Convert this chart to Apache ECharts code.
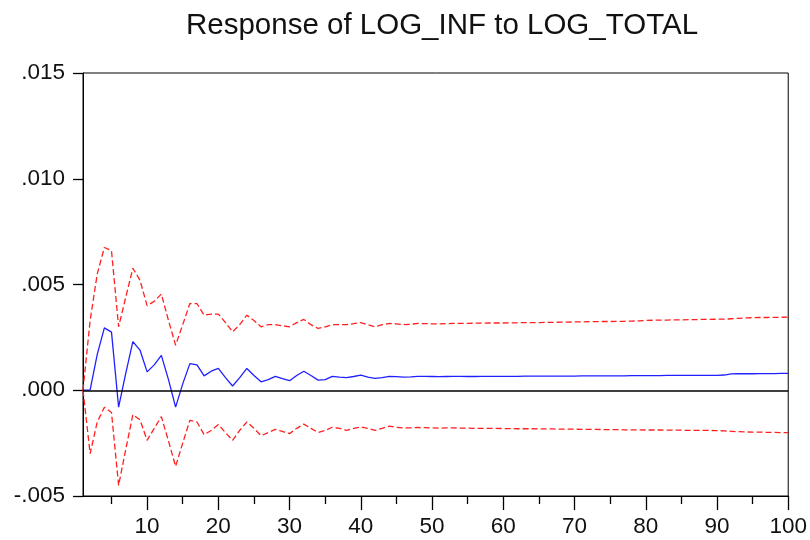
<!DOCTYPE html>
<html>
<head>
<meta charset="utf-8">
<script src="https://cdn.jsdelivr.net/npm/echarts@6/dist/echarts.min.js"></script>
<style>
html,body{margin:0;padding:0;background:#fff;}
#chart{width:810px;height:540px;}
</style>
</head>
<body>
<div id="chart"></div>
<script>
const titleText = 'Response of LOG_INF to LOG_TOTAL';
const periods = Array.from({length: 100}, (_, i) => i + 1);
const xLabelTicks = [10, 20, 30, 40, 50, 60, 70, 80, 90, 100];
const xMinorTicks = [5, 15, 25, 35, 45, 55, 65, 75, 85, 95];

const response = [
  0, 0.00002, 0.0017, 0.00295, 0.00275, -0.0008, 0.0008, 0.0023, 0.0019, 0.00087,
  0.0012, 0.00165, 0.0005, -0.0008, 0.0003, 0.00126, 0.0012, 0.00068, 0.0009, 0.00103,
  0.0006, 0.0002, 0.0006, 0.00103, 0.0007, 0.0004, 0.0005, 0.00066, 0.00055, 0.00045,
  0.0007, 0.0009, 0.0007, 0.00048, 0.0005, 0.00066, 0.00062, 0.0006, 0.00065, 0.00071,
  0.00062, 0.00056, 0.0006, 0.00066, 0.00064, 0.00062, 0.00063, 0.00066, 0.00066, 0.00065,
  0.00064, 0.00065, 0.00066, 0.00066, 0.00065, 0.00065, 0.00066, 0.00066, 0.00066, 0.00066,
  0.00066, 0.00066, 0.00067, 0.00067, 0.00067, 0.00067, 0.00067, 0.00067, 0.00067, 0.00067,
  0.00068, 0.00068, 0.00068, 0.00068, 0.00068, 0.00068, 0.00068, 0.00069, 0.00069, 0.00069,
  0.00069, 0.00069, 0.0007, 0.0007, 0.0007, 0.0007, 0.0007, 0.0007, 0.0007, 0.0007,
  0.00072, 0.00077, 0.00078, 0.00078, 0.00078, 0.00079, 0.00079, 0.00079, 0.0008, 0.0008
];

const upperBand = [
  0, 0.0033, 0.0055, 0.00675, 0.0066, 0.003, 0.0044, 0.00577, 0.0052, 0.004,
  0.0042, 0.00455, 0.0033, 0.00213, 0.0031, 0.0041, 0.0041, 0.00355, 0.0036, 0.0036,
  0.0032, 0.00276, 0.0031, 0.00355, 0.0033, 0.003, 0.0031, 0.0031, 0.00305, 0.003,
  0.0032, 0.00335, 0.0031, 0.00292, 0.003, 0.0031, 0.0031, 0.0031, 0.00315, 0.0032,
  0.0031, 0.003, 0.0031, 0.00316, 0.00314, 0.0031, 0.00312, 0.00316, 0.00315, 0.00314,
  0.00314, 0.00315, 0.00316, 0.00316, 0.00316, 0.00317, 0.00317, 0.00318, 0.00318, 0.00318,
  0.00319, 0.00319, 0.0032, 0.0032, 0.0032, 0.00321, 0.00321, 0.00322, 0.00322, 0.00323,
  0.00323, 0.00324, 0.00324, 0.00325, 0.00325, 0.00326, 0.00326, 0.00327, 0.00328, 0.0033,
  0.00331, 0.00332, 0.00332, 0.00333, 0.00333, 0.00334, 0.00334, 0.00335, 0.00335, 0.00336,
  0.00336, 0.00338, 0.0034, 0.00342, 0.00343, 0.00344, 0.00344, 0.00345, 0.00345, 0.00346
];

const lowerBand = [
  0, -0.003, -0.0015, -0.0008, -0.00105, -0.0045, -0.0028, -0.00115, -0.0014, -0.00237,
  -0.0018, -0.00125, -0.0024, -0.0036, -0.0025, -0.00142, -0.0015, -0.0021, -0.0019, -0.00162,
  -0.002, -0.00237, -0.0019, -0.0015, -0.0018, -0.00215, -0.002, -0.00185, -0.00195, -0.00205,
  -0.0018, -0.0016, -0.0018, -0.002, -0.0019, -0.00175, -0.0018, -0.0019, -0.0018, -0.00174,
  -0.0018, -0.0019, -0.0018, -0.0017, -0.00175, -0.00178, -0.00178, -0.00176, -0.00177, -0.00178,
  -0.00179, -0.00178, -0.00178, -0.00179, -0.00179, -0.0018, -0.0018, -0.0018, -0.0018, -0.00181,
  -0.00181, -0.00182, -0.00182, -0.00182, -0.00183, -0.00183, -0.00183, -0.00184, -0.00184, -0.00184,
  -0.00185, -0.00185, -0.00185, -0.00186, -0.00186, -0.00186, -0.00187, -0.00187, -0.00187, -0.00188,
  -0.00188, -0.00188, -0.00189, -0.00189, -0.00189, -0.0019, -0.0019, -0.0019, -0.0019, -0.00191,
  -0.00192, -0.00194, -0.00196, -0.00197, -0.00198, -0.00198, -0.00199, -0.00199, -0.002, -0.002
];

const pairs = arr => periods.map((p, i) => [p, arr[i]]);
const font = 'Liberation Sans, Arial, sans-serif';

const chart = echarts.init(document.getElementById('chart'), null, {renderer: 'canvas'});
chart.setOption({
  animation: false,
  backgroundColor: '#fff',
  title: {
    text: titleText,
    left: 437,
    textAlign: 'center',
    top: 6,
    textStyle: {fontFamily: font, fontSize: 29.5, fontWeight: 'normal', color: '#111'}
  },
  grid: {
    left: 83, right: 20, top: 73, bottom: 44,
    show: true, borderColor: '#000', borderWidth: 1, backgroundColor: 'transparent'
  },
  xAxis: [{
    type: 'value', min: 1, max: 100, position: 'bottom',
    axisLine: {show: true, onZero: false, lineStyle: {color: '#000', width: 1}},
    axisTick: {show: true, customValues: xLabelTicks, length: 14, lineStyle: {color: '#000', width: 1.3}},
    axisLabel: {customValues: xLabelTicks, margin: 19, fontFamily: font, fontSize: 22.5, color: '#111'},
    splitLine: {show: false}
  }, {
    type: 'value', min: 1, max: 100, position: 'bottom', offset: 0,
    axisLine: {show: false, onZero: false},
    axisTick: {show: true, customValues: xMinorTicks, length: 8, lineStyle: {color: '#000', width: 1.3}},
    axisLabel: {show: false},
    splitLine: {show: false}
  }],
  yAxis: {
    type: 'value', min: -0.005, max: 0.015, interval: 0.005,
    axisLine: {show: true, onZero: false, lineStyle: {color: '#000', width: 1}},
    axisTick: {show: true, length: 10, lineStyle: {color: '#000', width: 1.3}},
    axisLabel: {
      margin: 18, fontFamily: font, fontSize: 22.5, color: '#111',
      formatter: v => v.toFixed(3).replace('0.', '.')
    },
    splitLine: {show: false}
  },
  series: [{
    type: 'line', data: pairs(upperBand), symbol: 'none', xAxisIndex: 0,
    lineStyle: {color: '#ff2020', width: 1.3, type: [6, 3]}
  }, {
    type: 'line', data: pairs(lowerBand), symbol: 'none', xAxisIndex: 0,
    lineStyle: {color: '#ff2020', width: 1.3, type: [6, 3]}
  }, {
    type: 'line', data: pairs(response), symbol: 'none', xAxisIndex: 0,
    lineStyle: {color: '#2020ff', width: 1.3},
    markLine: {
      silent: true, symbol: 'none', label: {show: false},
      lineStyle: {color: '#000', width: 1.5, type: 'solid'},
      data: [{yAxis: 0}]
    }
  }]
});
</script>
</body>
</html>
